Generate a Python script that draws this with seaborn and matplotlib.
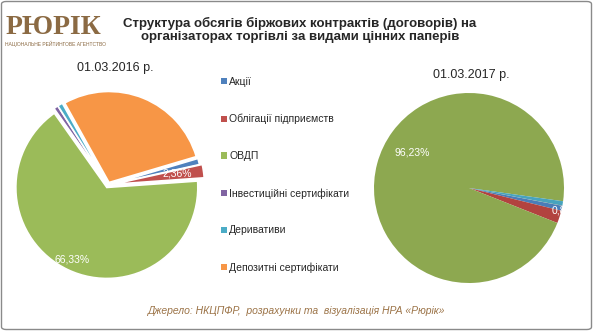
import matplotlib
matplotlib.use("Agg")
import numpy as np
import matplotlib.pyplot as plt
from matplotlib.patches import Patch, FancyBboxPatch
import seaborn as sns

# Structure of exchange contract volumes by security type, %
categories = ["Акції", "Облігації підприємств", "ОВДП",
              "Інвестиційні сертифікати", "Деривативи", "Депозитні сертифікати"]
share_2016 = [1.10, 2.36, 66.33, 0.80, 0.90, 28.51]
share_2017 = [0.85, 2.15, 96.23, 0.00, 0.75, 0.02]
date_labels = ["01.03.2016 р.", "01.03.2017 р."]

title_text = ("Структура обсягів біржових контрактів (договорів) на\n"
              "організаторах торгівлі за видами цінних паперів")
source_text = "Джерело: НКЦПФР,  розрахунки та  візуалізація НРА «Рюрік»"

sns.set_style("white")
plt.rcParams["font.family"] = ["Liberation Sans", "DejaVu Sans"]

colors_2016 = sns.color_palette(["#4F81BD", "#C0504D", "#9BBB59",
                                 "#8064A2", "#4BACC6", "#F79646"])
colors_2017 = sns.color_palette(["#4A7DB8", "#B2433F", "#8DA850",
                                 "#7A5E9C", "#47A3BE", "#F08D40"])

W, H = 593, 331
LIM = 1.15
fig = plt.figure(figsize=(W / 100, H / 100), dpi=100)
fig.patch.set_facecolor("white")


def pie_axes(cx, cy, r):
    side = 2 * r * LIM
    ax = fig.add_axes([(cx - side / 2) / W, (H - cy - side / 2) / H, side / W, side / H])
    return ax


def finish_axes(ax):
    ax.set_xlim(-LIM, LIM)
    ax.set_ylim(-LIM, LIM)
    ax.set_aspect("equal")
    ax.axis("off")


def wedge_label(ax, wedge, text, rfrac, dang=0.0, ha="center"):
    mid = np.deg2rad((wedge.theta1 + wedge.theta2) / 2 + dang)
    x0, y0 = wedge.center
    ax.text(x0 + rfrac * wedge.r * np.cos(mid), y0 + rfrac * wedge.r * np.sin(mid),
            text, color="white", fontsize=7.5, ha=ha, va="center")


def pct(v):
    return f"{v:.2f}%".replace(".", ",")


# 2016 pie (exploded slices)
ax1 = pie_axes(108, 185, 91)
explode = [0.03, 0.06, 0.03, 0.03, 0.03, 0.03]
w1, _ = ax1.pie(share_2016, colors=colors_2016, startangle=16.5, counterclock=False,
                explode=explode, radius=1.0,
                wedgeprops=dict(edgecolor="white", linewidth=1.2))
finish_axes(ax1)
wedge_label(ax1, w1[1], pct(share_2016[1]), 0.71, dang=1)
wedge_label(ax1, w1[2], pct(share_2016[2]), 0.88)

# 2017 pie
ax2 = pie_axes(469, 188, 95)
w2, _ = ax2.pie(share_2017, colors=colors_2017, startangle=-10.8, counterclock=False,
                radius=1.0, wedgeprops=dict(linewidth=0))
finish_axes(ax2)
wedge_label(ax2, w2[2], pct(share_2017[2]), 0.70, dang=-17)
wedge_label(ax2, w2[0], pct(share_2017[0]), 0.905, dang=-2.5, ha="left")

# Titles
fig.text(300 / W, 1 - 30 / H, title_text, ha="center", va="center",
         fontsize=9.5, fontweight="bold", linespacing=1.05,
         family=["Liberation Sans Narrow", "Liberation Sans", "DejaVu Sans"])
fig.text(115 / W, 1 - 68 / H, date_labels[0], ha="center", va="center", fontsize=9)
fig.text(471 / W, 1 - 75 / H, date_labels[1], ha="center", va="center", fontsize=9)

# Legend
handles = [Patch(facecolor=c, edgecolor="none") for c in colors_2016]
fig.legend(handles, categories, loc="upper left",
           bbox_to_anchor=(221 / W, 1 - 77 / H), bbox_transform=fig.transFigure,
           frameon=False, fontsize=7.5, handlelength=0.55, handleheight=0.55,
           handletextpad=0.25, labelspacing=2.58, borderpad=0, borderaxespad=0,
           labelcolor="#262626")

# Source line
fig.text(297 / W, 1 - 311 / H, source_text, ha="center", va="center",
         fontsize=7.5, style="italic", color="#9C7448")

# Agency logo
fig.text(6 / W, 1 - 28 / H, "РЮРІК", ha="left", va="center", fontsize=20,
         fontweight="bold", color="#8B6A43",
         family=["Liberation Serif", "DejaVu Serif"])
fig.text(5 / W, 1 - 43.5 / H, "НАЦІОНАЛЬНЕ РЕЙТИНГОВЕ АГЕНТСТВО", ha="left",
         va="center", fontsize=3.6, color="#8B6A43")

# Outer frame
fig.patches.append(FancyBboxPatch((1.5 / W, 1.5 / H), (W - 3) / W, (H - 3) / H,
                                  boxstyle="round,pad=0,rounding_size=0.008",
                                  transform=fig.transFigure, fill=False,
                                  edgecolor="#8a8a8a", linewidth=1.0))

fig.savefig("out.png", dpi=100, facecolor="white")
